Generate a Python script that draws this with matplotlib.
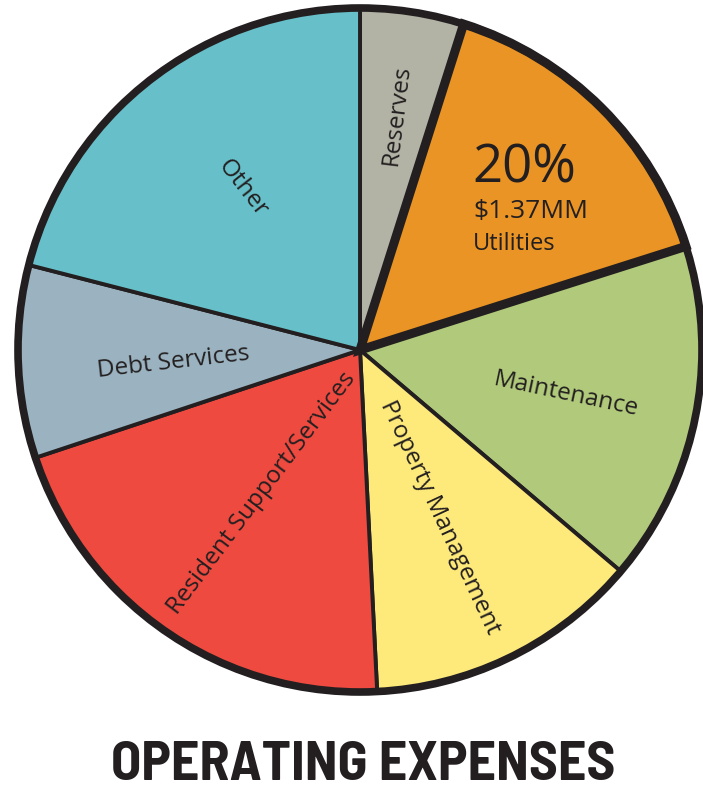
import matplotlib.pyplot as plt
from matplotlib.patches import Circle

# slice shares (clockwise from 12 o'clock)
categories = ['Reserves', 'Utilities', 'Maintenance', 'Property Management',
              'Resident Support/Services', 'Debt Services', 'Other']
shares = [4.9, 15.2, 16.1, 13.0, 20.7, 9.1, 21.0]
colors = ['#b2b3a5', '#e99424', '#b0c97b', '#feea7b', '#ee4a40', '#9bb3c0', '#67c0c9']

util_pct = '20%'
util_amount = '$1.37MM'
title = 'OPERATING EXPENSES'

W, H = 703, 789
edge = '#231f20'
label_font = ['Open Sans', 'DejaVu Sans']
title_font = ['Barlow Semi Condensed', 'Barlow Condensed', 'DejaVu Sans']

fig = plt.figure(figsize=(W / 100, H / 100), dpi=100)
ax = fig.add_axes([0, 0, 1, 1])

cx, cy, r = 360, H - 350, 342
wedges, _ = ax.pie(shares, colors=colors, startangle=90, counterclock=False,
                   center=(cx, cy), radius=r,
                   wedgeprops=dict(edgecolor=edge, linewidth=2.8))

# utilities wedge gets the heavy outline
wedges[1].set_linewidth(6.5)
wedges[1].set_zorder(3)

ax.add_patch(Circle((cx, cy), r, fill=False, edgecolor=edge, linewidth=5.5, zorder=4))

ax.set_xlim(0, W)
ax.set_ylim(0, H)
ax.set_aspect('equal')
ax.axis('off')


def label(x, y, s, rot, size=17.5):
    ax.text(x, H - y, s, rotation=rot, rotation_mode='anchor', ha='center', va='center',
            fontsize=size, color=edge, family=label_font, zorder=5)


label(397, 115, 'Reserves', 83)
label(243, 188, 'Other', -52)
label(173, 362, 'Debt Services', 6.5)
label(262, 493, 'Resident Support/Services', 53)
label(440, 517, 'Property Management', -65)
label(566, 394, 'Maintenance', -12)

ax.text(472, H - 169, util_pct, ha='left', va='center', fontsize=38, color=edge,
        family=label_font, zorder=5)
ax.text(473, H - 211, util_amount, ha='left', va='center', fontsize=19, color=edge,
        family=label_font, zorder=5)
ax.text(473, H - 244, 'Utilities', ha='left', va='center', fontsize=17, color=edge,
        family=label_font, zorder=5)

ax.text(363, H - 765, title, ha='center', va='center', fontsize=40,
        fontweight='bold', color=edge, family=title_font, zorder=5)

fig.savefig('out.png', dpi=100)
